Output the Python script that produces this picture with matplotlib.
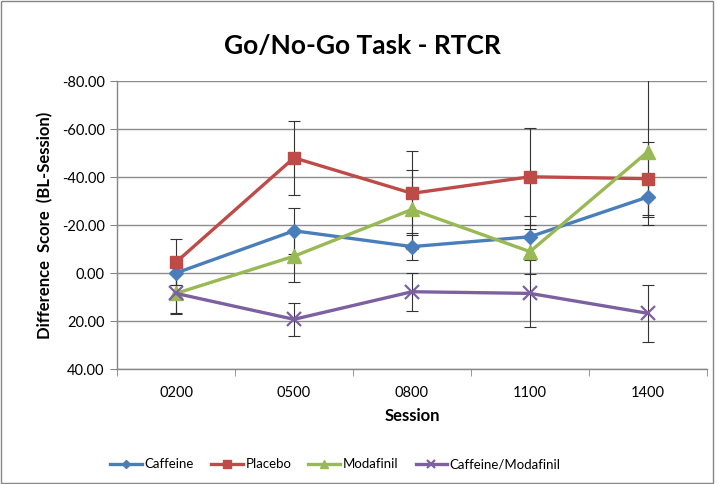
import matplotlib
matplotlib.use("Agg")
import matplotlib.pyplot as plt
from matplotlib.patches import Rectangle
import numpy as np

sessions = ["0200", "0500", "0800", "1100", "1400"]
caffeine = [0.0, -17.6, -11.0, -15.1, -31.7]
placebo = [-4.5, -48.0, -33.2, -40.1, -39.3]
modafinil = [8.5, -7.0, -26.5, -8.9, -50.6]
caf_mod = [8.5, 19.3, 7.8, 8.5, 16.8]

caffeine_err = [5.0, 9.6, 5.5, 8.5, 8.4]
placebo_err = [9.7, 15.5, 17.5, 20.2, 15.2]
modafinil_err = [8.0, 10.7, 16.5, 9.5, 30.6]
caf_mod_err = [8.5, 7.0, 8.0, 14.0, 11.8]

yticks = [-80, -60, -40, -20, 0, 20, 40]

plt.rcParams['font.family'] = ['Lato', 'DejaVu Sans']

fig = plt.figure(figsize=(7.17, 4.84), dpi=100)
fig.patches.append(Rectangle((0.001, 0.003), 0.994, 0.994, transform=fig.transFigure,
                             fill=False, edgecolor='#868686', linewidth=1.0))
ax = fig.add_axes([0.1632, 0.2376, 0.8228, 0.595])

x = np.arange(len(sessions))
series = [
    ("Caffeine", caffeine, caffeine_err, '#4A7EBB', 'D', 7),
    ("Placebo", placebo, placebo_err, '#BE4B48', 's', 8.5),
    ("Modafinil", modafinil, modafinil_err, '#98B954', '^', 9.5),
    ("Caffeine/Modafinil", caf_mod, caf_mod_err, '#7D60A0', 'x', 10),
]
handles = []
for name, vals, errs, col, mk, ms in series:
    ax.errorbar(x, vals, yerr=errs, fmt='none', ecolor='#333333', elinewidth=0.8,
                capsize=4, capthick=0.8, zorder=2)
for name, vals, errs, col, mk, ms in series:
    mew = 1.6 if mk == 'x' else 1.0
    h, = ax.plot(x, vals, color=col, linewidth=2.4, marker=mk, markersize=ms,
                 markerfacecolor=col, markeredgecolor=col, markeredgewidth=mew,
                 label=name, zorder=3)
    handles.append(h)

ax.set_ylim(40, -80)
ax.set_xlim(-0.5, len(sessions) - 0.5)
ax.set_yticks(yticks)
ax.set_yticklabels([f"{v:.2f}" for v in yticks])
ax.set_xticks(x)
ax.set_xticklabels(sessions)
ax.set_xticks(np.arange(-0.5, len(sessions), 1.0), minor=True)
ax.tick_params(axis='x', which='major', length=0, labelsize=10.5, pad=12, colors='#000000')
ax.tick_params(axis='x', which='minor', length=5, color='#868686', direction='out')
ax.tick_params(axis='y', length=5, color='#868686', labelsize=10.5, pad=4)

ax.grid(axis='y', color='#8c8c8c', linewidth=1.0)
ax.set_axisbelow(True)
for s in ['top', 'right']:
    ax.spines[s].set_visible(False)
for s in ['left', 'bottom']:
    ax.spines[s].set_color('#868686')
    ax.spines[s].set_linewidth(1.0)

ax.set_ylabel("Difference  Score  (BL-Session)", fontsize=12, fontweight='bold', labelpad=6)
ax.set_xlabel("Session", fontsize=12, fontweight='bold', labelpad=6)
fig.text(0.505, 0.905, "Go/No-Go Task - RTCR", ha='center', va='center', fontsize=19, fontweight='bold')

fig.legend(handles=handles, loc='center', bbox_to_anchor=(0.468, 0.041), ncol=4, frameon=False,
           fontsize=9.5, handlelength=2.4, columnspacing=1.3, handletextpad=0.2, markerscale=0.6)

fig.savefig("out.png", dpi=100)
